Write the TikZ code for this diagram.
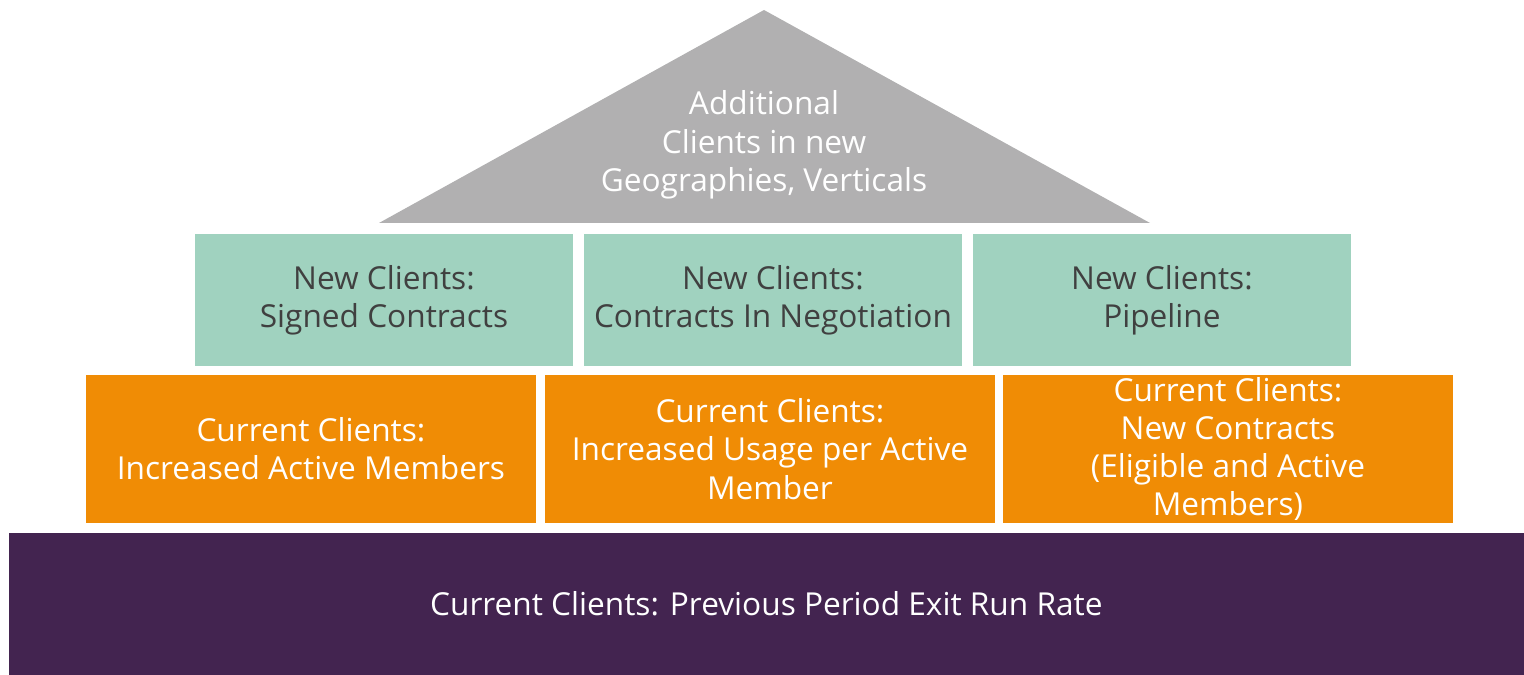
\documentclass[tikz,border=0pt]{standalone}
\usepackage{fontspec}
\setmainfont{Open Sans}
\usepackage{xcolor}
\usepackage{tikz}
\usetikzlibrary{positioning, calc}

\definecolor{roofgray}{HTML}{B1B0B1}
\definecolor{newteal}{HTML}{A0D2BF}
\definecolor{curorange}{HTML}{F08C05}
\definecolor{basepurple}{HTML}{432450}
\definecolor{darktext}{HTML}{404040}

\begin{document}
\begin{tikzpicture}[x=0.02cm, y=-0.02cm,
  label font/.style={font=\fontsize{18}{21.8}\selectfont},
  brick/.style={anchor=north west, inner sep=0pt, outer sep=0pt, align=center, label font},
  newbox/.style={brick, fill=newteal, text=darktext, minimum width=7.56cm, minimum height=2.64cm},
  curbox/.style={brick, fill=curorange, text=white, minimum width=9cm, minimum height=2.96cm},
  basebox/.style={brick, fill=basepurple, text=white, minimum width=30.3cm, minimum height=2.84cm}]
  \useasboundingbox (0,0) rectangle (1524,675);

  % roof
  \coordinate (apex) at (764,10);
  \coordinate (eaveL) at (379,223);
  \coordinate (eaveR) at (1150,223);
  \fill[roofgray] (apex) -- (eaveR) -- (eaveL) -- cycle;
  \node[align=center, text=white, label font] (roof) at (764,145)
    {Additional\\Clients in new\\Geographies, Verticals};

  % new clients row
  \node[newbox] (signed) at (195,234) {New Clients:\\Signed Contracts};
  \node[newbox] (negot) at (584,234) {New Clients:\\Contracts In Negotiation};
  \node[newbox] (pipe) at (973,234) {New Clients:\\Pipeline};

  % current clients row
  \node[curbox] (members) at (86,375) {Current Clients:\\Increased Active Members};
  \node[curbox] (usage) at (545,375) {Current Clients:\\Increased Usage per Active\\Member};
  \node[curbox] (contracts) at (1003,375) {Current Clients:\\New Contracts\\(Eligible and Active\\Members)};

  % foundation
  \node[basebox] (runrate) at (9,533) {Current Clients: Previous Period Exit Run Rate};
\end{tikzpicture}
\end{document}
